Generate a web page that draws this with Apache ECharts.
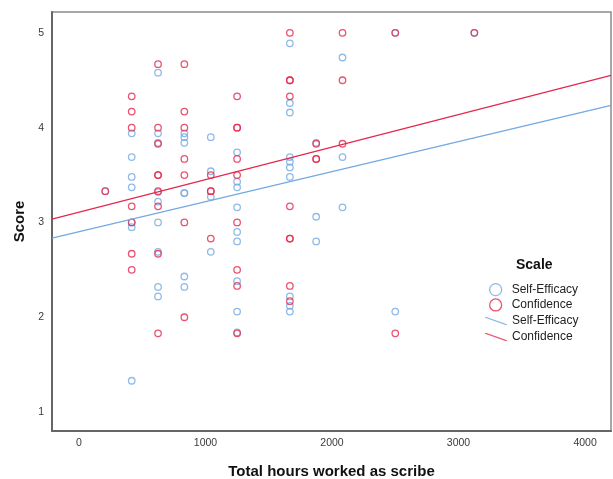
<!DOCTYPE html>
<html>
<head>
<meta charset="utf-8">
<script src="https://cdn.jsdelivr.net/npm/echarts@6/dist/echarts.min.js"></script>
<style>
html,body{margin:0;padding:0;background:#fff;}
#c{width:613px;height:479px;}
</style>
</head>
<body>
<div id="c"></div>
<script>
// Hours columns (x values)
const hours = [208, 417, 625, 833, 1042, 1250, 1667, 1875, 2083, 2500, 3125];
// Self-Efficacy scores per hours column
const selfEfficacy = [
  [3.33],
  [3.94, 3.69, 3.48, 3.37, 3.00, 2.95, 1.33],
  [4.58, 3.94, 3.84, 3.32, 3.22, 3.00, 2.69, 2.32, 2.22],
  [3.94, 3.90, 3.84, 3.31, 3.31, 2.43, 2.32],
  [3.90, 3.54, 3.27, 2.69],
  [3.74, 3.43, 3.37, 3.16, 2.90, 2.80, 2.38, 2.06, 1.84],
  [4.89, 4.26, 4.16, 3.69, 3.64, 3.58, 3.48, 2.22, 2.12, 2.06],
  [3.84, 3.06, 2.80],
  [4.74, 3.69, 3.16],
  [5.00, 2.06],
  [5.00]
];
// Confidence scores per hours column
const confidence = [
  [3.33],
  [4.33, 4.17, 4.00, 3.17, 3.00, 2.67, 2.50],
  [4.67, 4.00, 3.83, 3.50, 3.50, 3.33, 3.17, 2.67, 1.83],
  [4.67, 4.17, 4.00, 3.67, 3.50, 3.00, 2.00],
  [3.50, 3.33, 3.33, 2.83],
  [4.33, 4.00, 4.00, 3.67, 3.50, 3.00, 2.50, 2.33, 1.83],
  [5.00, 4.50, 4.50, 4.33, 3.17, 2.83, 2.83, 2.33, 2.17],
  [3.83, 3.67, 3.67],
  [5.00, 4.50, 3.83],
  [5.00, 1.83],
  [5.00]
];
// Fit lines (at the plot edges)
const fitX = [-213, 4205];
const fitSelfEfficacy = [2.835, 4.235];
const fitConfidence = [3.035, 4.552];
// Tick labels
const xTicks = [0, 1000, 2000, 3000, 4000];
const yTicks = [1, 2, 3, 4, 5];

const BLUE = '#73a9e2';
const RED = '#e3284d';
const FONT = '"Liberation Sans", Arial, sans-serif';

function pairs(xs, groups) {
  const out = [];
  groups.forEach((g, i) => g.forEach(v => out.push([xs[i], v])));
  return out;
}
const seData = pairs(hours, selfEfficacy);
const cfData = pairs(hours, confidence);
const seLine = fitX.map((x, i) => [x, fitSelfEfficacy[i]]);
const cfLine = fitX.map((x, i) => [x, fitConfidence[i]]);

const linePath = 'path://M0,0 L1.6,0 L22,7.2 L22,8 L20.4,8 L0,0.8 Z';

const chart = echarts.init(document.getElementById('c'), null, {renderer: 'canvas'});
chart.setOption({
  animation: false,
  backgroundColor: '#ffffff',
  textStyle: {fontFamily: FONT},
  grid: {left: 52, right: 2, top: 12, bottom: 48, outerBoundsMode: 'none', containLabel: false,
         show: true, borderColor: '#8a8a8a', borderWidth: 1.5, backgroundColor: '#fff'},
  title: {
    text: 'Scale', left: 511, top: 253,
    textStyle: {fontFamily: FONT, fontSize: 14, fontWeight: 'bold', color: '#111'}
  },
  legend: [
    {
      orient: 'vertical', left: 484, top: 278, itemWidth: 22, itemHeight: 12, itemGap: 2,
      textStyle: {fontFamily: FONT, fontSize: 12, color: '#222'},
      data: [
        {name: 'Self-Efficacy', icon: 'circle', itemStyle: {color: 'rgba(0,0,0,0)', borderColor: BLUE, borderWidth: 1.3}},
        {name: 'Confidence', icon: 'circle', itemStyle: {color: 'rgba(0,0,0,0)', borderColor: RED, borderWidth: 1.3}}
      ],
      selectedMode: false
    },
    {
      orient: 'vertical', left: 480, top: 310, itemWidth: 22, itemHeight: 8, itemGap: 4,
      textStyle: {fontFamily: FONT, fontSize: 12, color: '#222'},
      data: [
        {name: 'Self-Efficacy', icon: linePath, itemStyle: {color: BLUE, borderWidth: 0}},
        {name: 'Confidence', icon: linePath, itemStyle: {color: RED, borderWidth: 0}}
      ],
      selectedMode: false
    }
  ],
  xAxis: {
    type: 'value', min: -213, max: 4205,
    name: 'Total hours worked as scribe', nameLocation: 'middle', nameGap: 33,
    nameTextStyle: {fontFamily: FONT, fontSize: 15, fontWeight: 'bold', color: '#111'},
    axisLine: {show: true, onZero: false, lineStyle: {color: '#666', width: 2}},
    axisTick: {show: false},
    splitLine: {show: false},
    axisLabel: {customValues: xTicks, formatter: v => String(v), color: '#3a3a3a', fontSize: 10.5, fontFamily: FONT, margin: 7}
  },
  yAxis: {
    type: 'value', min: 0.8, max: 5.22,
    name: 'Score', nameLocation: 'middle', nameGap: 25, nameRotate: 90,
    nameTextStyle: {fontFamily: FONT, fontSize: 15, fontWeight: 'bold', color: '#111'},
    axisLine: {show: true, onZero: false, lineStyle: {color: '#666', width: 2}},
    axisTick: {show: false},
    splitLine: {show: false},
    axisLabel: {customValues: yTicks, formatter: v => String(v), color: '#3a3a3a', fontSize: 10.5, fontFamily: FONT, margin: 8}
  },
  series: [
    {
      name: 'Self-Efficacy', type: 'scatter', data: seData, symbol: 'circle', symbolSize: 6.5,
      itemStyle: {color: 'rgba(0,0,0,0)', borderColor: BLUE, borderWidth: 1.3}, silent: true, z: 2
    },
    {
      name: 'Confidence', type: 'scatter', data: cfData, symbol: 'circle', symbolSize: 6.5,
      itemStyle: {color: 'rgba(0,0,0,0)', borderColor: RED, borderWidth: 1.3}, silent: true, z: 3
    },
    {
      name: 'Self-Efficacy', type: 'line', data: seLine, showSymbol: false, symbol: 'none',
      lineStyle: {color: BLUE, width: 1.2}, itemStyle: {color: BLUE}, silent: true, z: 4
    },
    {
      name: 'Confidence', type: 'line', data: cfLine, showSymbol: false, symbol: 'none',
      lineStyle: {color: RED, width: 1.2}, itemStyle: {color: RED}, silent: true, z: 5
    }
  ]
});
</script>
</body>
</html>
